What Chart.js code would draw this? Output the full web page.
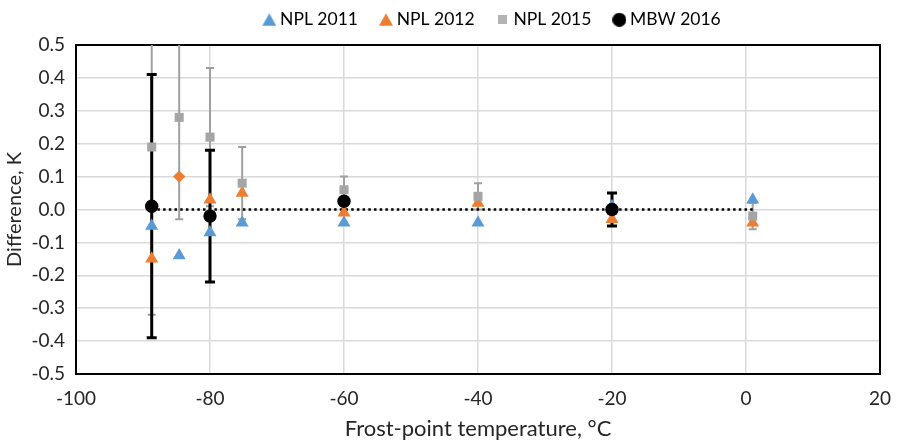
<!DOCTYPE html>
<html>
<head>
<meta charset="utf-8">
<script src="https://cdn.jsdelivr.net/npm/chart.js@4/dist/chart.umd.min.js"></script>
<style>
  html, body { margin: 0; padding: 0; background: #fff; }
  #wrap { width: 897px; height: 442px; }
</style>
</head>
<body>
<div id="wrap"><canvas id="chart" width="897" height="442"></canvas></div>
<script>
// Frost-point temperatures (°C) of the NPL comparison points
const frostPoints = [-88.7, -84.6, -80, -75.2, -60, -40, -20, 1];
// Differences, K
const npl2011 = [-0.05, -0.14, -0.07, -0.04, -0.04, -0.04, 0.01, 0.03];
const npl2012 = [-0.15, 0.10, 0.03, 0.05, -0.01, 0.02, -0.03, -0.04];
const npl2015 = [0.19, 0.28, 0.22, 0.08, 0.06, 0.04, null, -0.02];
const npl2015Err = [0.51, 0.31, 0.21, 0.11, 0.04, 0.04, null, 0.04];
// MBW 2016 points
const mbwPoints = [-88.7, -80, -60, -20];
const mbw2016 = [0.01, -0.02, 0.025, 0.0];
const mbw2016Err = [0.40, 0.20, 0.0, 0.05];
// Zero reference line end points
const zeroLineX = [-88.7, 1];
const zeroLineY = [0, 0];
// Axis ticks
const xTicks = [-100, -80, -60, -40, -20, 0, 20];
const yTicks = [-0.5, -0.4, -0.3, -0.2, -0.1, 0.0, 0.1, 0.2, 0.3, 0.4, 0.5];

const pts = (xs, ys) => xs.map((x, i) => ({ x: x, y: ys[i] }));

const FONT = 'Lato';
const TEXT = '#262626';

// Small legend icons
function icon(shape, color, size) {
  const c = document.createElement('canvas');
  c.width = size; c.height = size;
  const g = c.getContext('2d');
  g.fillStyle = color;
  g.beginPath();
  if (shape === 'triangle') {
    g.moveTo(size / 2, 0.5); g.lineTo(size, size - 1); g.lineTo(0, size - 1); g.closePath();
  } else if (shape === 'circle') {
    g.arc(size / 2, size / 2, size / 2, 0, Math.PI * 2);
  } else {
    g.rect(0, 0, size, size);
  }
  g.fill();
  return c;
}
const legendIcons = [
  icon('triangle', '#5B9BD5', 14),
  icon('triangle', '#ED7D31', 14),
  icon('rect', '#B4B4B4', 9),
  icon('circle', '#000', 14)
];

// Vertical error bars drawn through the chart's scales
const errorBars = {
  id: 'errorBars',
  beforeDatasetsDraw(chart) {
    const { ctx, chartArea: a, scales: { x, y } } = chart;
    ctx.save();
    ctx.beginPath();
    ctx.rect(a.left, a.top, a.right - a.left, a.bottom - a.top);
    ctx.clip();
    chart.data.datasets.forEach(ds => {
      if (!ds.errors) return;
      ctx.strokeStyle = ds.errorColor;
      ctx.lineWidth = ds.errorWidth;
      ds.data.forEach((p, i) => {
        const e = ds.errors[i];
        if (p.y == null || !e) return;
        const px = x.getPixelForValue(p.x);
        const top = y.getPixelForValue(p.y + e);
        const bot = y.getPixelForValue(p.y - e);
        const c = ds.errorCap / 2;
        ctx.beginPath();
        ctx.moveTo(px, top); ctx.lineTo(px, bot);
        ctx.moveTo(px - c, top); ctx.lineTo(px + c, top);
        ctx.moveTo(px - c, bot); ctx.lineTo(px + c, bot);
        ctx.stroke();
      });
    });
    ctx.restore();
  }
};

// Black frame round the plot area
const frame = {
  id: 'frame',
  beforeDatasetsDraw(chart) {
    const { ctx, chartArea: a } = chart;
    ctx.save();
    ctx.strokeStyle = '#000';
    ctx.lineWidth = 2;
    ctx.strokeRect(a.left, a.top, a.right - a.left, a.bottom - a.top);
    ctx.restore();
  }
};

// Fixed legend band height and offset
const legendPlace = {
  id: 'legendPlace',
  beforeInit(chart) {
    const lg = chart.legend;
    if (!lg || lg._placed) return;
    lg._placed = true;
    const fit = lg.fit;
    lg.fit = function () { fit.call(this); this.height = 45; };
    const draw = lg.draw;
    lg.draw = function () {
      const ctx = this.ctx;
      ctx.save();
      ctx.translate(54, -15);
      draw.call(this);
      ctx.restore();
    };
  }
};

new Chart(document.getElementById('chart'), {
  type: 'scatter',
  data: {
    datasets: [
      {
        label: 'NPL 2011',
        data: pts(frostPoints, npl2011),
        backgroundColor: '#5B9BD5',
        borderWidth: 0,
        pointStyle: 'triangle',
        pointRadius: 7.5,
        order: 2
      },
      {
        label: 'NPL 2012',
        data: pts(frostPoints, npl2012),
        backgroundColor: '#ED7D31',
        borderWidth: 0,
        pointStyle: ['triangle', 'rectRot', 'triangle', 'triangle', 'triangle', 'triangle', 'triangle', 'triangle'],
        pointRadius: [7.5, 6.2, 7.5, 7.5, 7.5, 7.5, 7.5, 7.5],
        order: 3
      },
      {
        label: 'NPL 2015',
        data: pts(frostPoints, npl2015),
        backgroundColor: '#A5A5A5',
        borderWidth: 0,
        pointStyle: 'rect',
        pointRadius: 6.4,
        errors: npl2015Err,
        errorColor: '#A0A0A0',
        errorWidth: 2,
        errorCap: 8,
        order: 1
      },
      {
        label: 'MBW 2016',
        data: pts(mbwPoints, mbw2016),
        backgroundColor: '#000',
        borderWidth: 0,
        pointStyle: 'circle',
        pointRadius: 6.7,
        errors: mbw2016Err,
        errorColor: '#000',
        errorWidth: 3,
        errorCap: 10,
        order: 0
      },
      {
        label: 'zero',
        type: 'line',
        data: pts(zeroLineX, zeroLineY),
        borderColor: '#000',
        borderWidth: 2.5,
        borderDash: [2.5, 3.2],
        pointRadius: 0,
        fill: false,
        order: 5
      }
    ]
  },
  options: {
    responsive: false,
    animation: false,
    events: [],
    layout: { padding: { left: 0, right: 17, top: 0, bottom: 0 } },
    plugins: {
      tooltip: { enabled: false },
      legend: {
        position: 'top',
        align: 'center',
        labels: {
          usePointStyle: true,
          boxWidth: 4,
          boxHeight: 11,
          padding: 26,
          color: '#000',
          font: { family: FONT, size: 17.5 },
          filter: item => item.text !== 'zero',
          sort: (a, b) => a.datasetIndex - b.datasetIndex,
          generateLabels(chart) {
            const items = Chart.defaults.plugins.legend.labels.generateLabels(chart);
            items.forEach(it => {
              if (legendIcons[it.datasetIndex]) it.pointStyle = legendIcons[it.datasetIndex];
            });
            return items;
          }
        }
      }
    },
    scales: {
      x: {
        type: 'linear',
        min: -100,
        max: 20,
        afterBuildTicks: s => { s.ticks = xTicks.map(v => ({ value: v })); },
        afterFit: s => { s.height = 68; s.paddingLeft = 0; s.paddingRight = 0; },
        ticks: {
          color: TEXT,
          font: { family: FONT, size: 19 },
          padding: 13,
          callback: v => String(v)
        },
        grid: { color: '#D9D9D9', lineWidth: 1.5, drawTicks: false },
        border: { display: false },
        title: {
          display: true,
          text: 'Frost-point temperature, °C',
          color: TEXT,
          font: { family: FONT, size: 22, lineHeight: 1.0 },
          padding: { top: 0, bottom: 2 }
        }
      },
      y: {
        type: 'linear',
        min: -0.5,
        max: 0.5,
        afterBuildTicks: s => { s.ticks = yTicks.map(v => ({ value: v })); },
        afterFit: s => { s.width = 76; },
        ticks: {
          color: TEXT,
          font: { family: FONT, size: 19 },
          padding: 11,
          callback: v => Number(v).toFixed(1)
        },
        grid: { color: '#D9D9D9', lineWidth: 1.5, drawTicks: false },
        border: { display: false },
        title: {
          display: true,
          text: 'Difference, K',
          color: TEXT,
          font: { family: FONT, size: 20, lineHeight: 1.0 },
          padding: { top: 5, bottom: 0 }
        }
      }
    }
  },
  plugins: [legendPlace, frame, errorBars]
});
</script>
</body>
</html>
